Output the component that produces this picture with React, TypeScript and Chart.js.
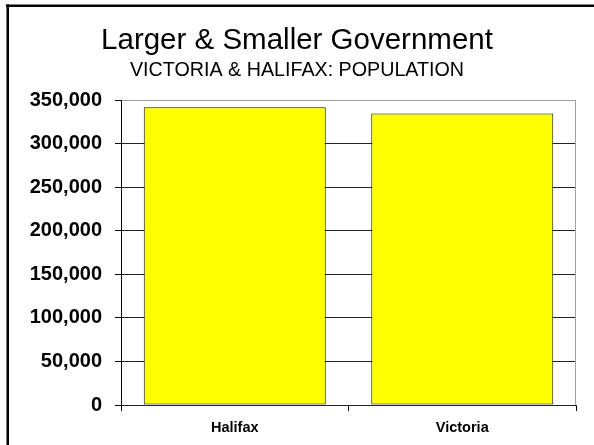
import React, { useEffect, useRef } from "react";
import { Chart, registerables } from "chart.js";

Chart.register(...registerables);

const categories = ["Halifax", "Victoria"];
const populationValues = [342000, 335000];
const yMin = 0;
const yMax = 350000;
const yStep = 50000;
const titleText = "Larger & Smaller Government";
const subtitleText = "VICTORIA & HALIFAX: POPULATION";

const FONT = '"Liberation Sans", Arial, sans-serif';

const framePlugin = {
  id: "frame",
  beforeDraw(chart: any) {
    const ctx = chart.ctx;
    ctx.save();
    ctx.fillStyle = "#ffffff";
    ctx.fillRect(0, 0, chart.width, chart.height);
    ctx.fillStyle = "#000000";
    ctx.fillRect(6, 4.5, chart.width, 2.5);
    ctx.fillRect(6.5, 4.5, 2.5, chart.height);
    ctx.restore();
  },
  beforeDatasetsDraw(chart: any) {
    const { ctx, chartArea } = chart;
    ctx.save();
    ctx.strokeStyle = "#a0a0a0";
    ctx.lineWidth = 1;
    ctx.beginPath();
    ctx.moveTo(chartArea.right - 0.5, chartArea.top);
    ctx.lineTo(chartArea.right - 0.5, chartArea.bottom);
    ctx.stroke();
    ctx.restore();
  },
};

export default function App() {
  const canvasRef = useRef<HTMLCanvasElement | null>(null);

  useEffect(() => {
    if (!canvasRef.current) return;
    const chart = new Chart(canvasRef.current, {
      type: "bar",
      data: {
        labels: categories,
        datasets: [
          {
            label: "Population",
            data: populationValues,
            backgroundColor: "#ffff00",
            borderColor: "#111111",
            borderWidth: 1,
            borderSkipped: false,
            barPercentage: 0.8,
            categoryPercentage: 1.0,
          },
        ],
      },
      options: {
        responsive: false,
        animation: false,
        layout: { padding: { left: 0, right: 0, top: 0, bottom: 0 } },
        plugins: {
          legend: { display: false },
          tooltip: { enabled: false },
          title: {
            display: true,
            text: titleText,
            color: "#000",
            font: { family: FONT, size: 29.5, weight: "normal", lineHeight: 1.2 },
            padding: { top: 22.8, bottom: 0 },
          },
          subtitle: {
            display: true,
            text: subtitleText,
            color: "#000",
            font: { family: FONT, size: 19.7, weight: "normal", lineHeight: 1.2 },
            padding: { top: 0.5, bottom: 18 },
          },
        },
        scales: {
          x: {
            offset: true,
            grid: {
              offset: true,
              drawOnChartArea: false,
              drawTicks: true,
              tickLength: 6,
              tickColor: "#000",
              color: "#000",
            },
            border: { display: true, color: "#222", width: 1 },
            ticks: {
              color: "#000",
              padding: 8,
              font: { family: FONT, size: 14.5, weight: "bold" },
            },
            afterFit(scale: any) {
              scale.height = 40;
            },
          },
          y: {
            min: yMin,
            max: yMax,
            grid: {
              drawTicks: true,
              tickLength: 6,
              tickColor: "#000",
              lineWidth: 1,
              color: (ctx: any) =>
                ctx.tick && ctx.tick.value === yMax ? "#a0a0a0" : "#222",
            },
            border: { display: true, color: "#000", width: 1 },
            ticks: {
              stepSize: yStep,
              color: "#000",
              padding: 13,
              font: { family: FONT, size: 20, weight: "bold" },
              callback: (v: any) => Number(v).toLocaleString("en-US"),
            },
            afterFit(scale: any) {
              scale.width = 121;
            },
          },
          spacer: {
            type: "linear",
            position: "right",
            display: true,
            grid: { display: false, drawTicks: false },
            border: { display: false },
            ticks: { display: false },
            afterFit(scale: any) {
              scale.width = 18;
            },
          },
        },
      },
      plugins: [framePlugin],
    });
    return () => chart.destroy();
  }, []);

  return (
    <div style={{ position: "fixed", left: 0, top: 0, width: 594, height: 445, background: "#fff" }}>
      <canvas ref={canvasRef} width={594} height={445} style={{ display: "block" }} />
    </div>
  );
}
